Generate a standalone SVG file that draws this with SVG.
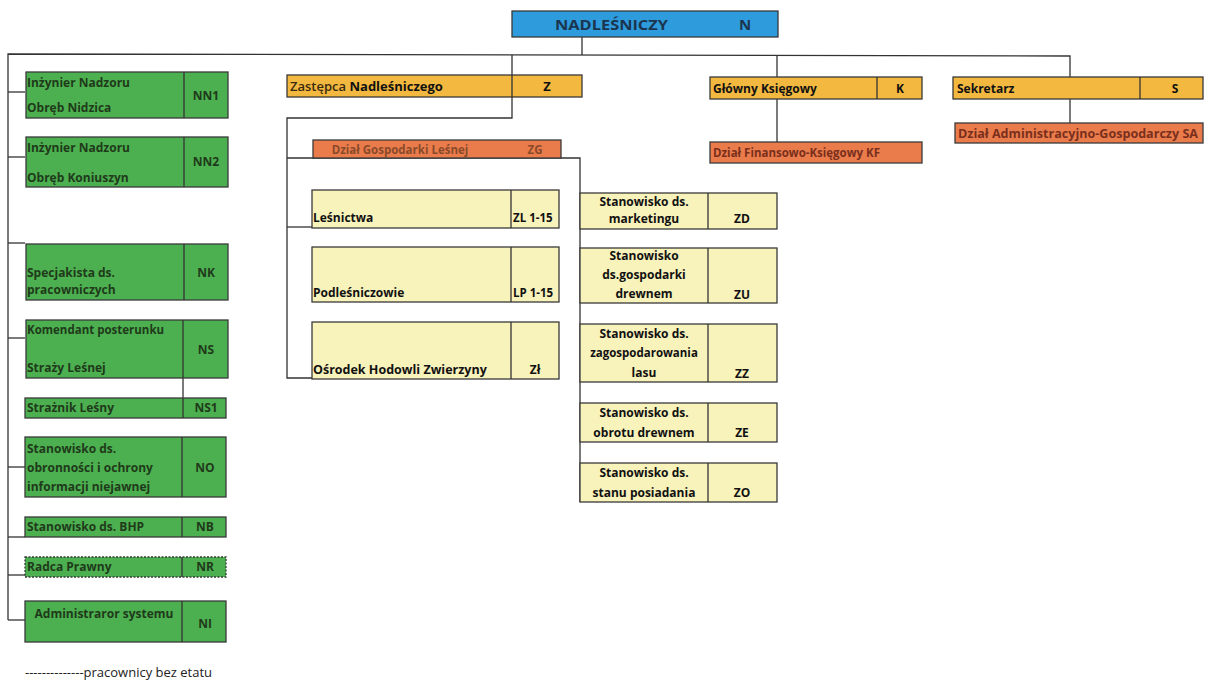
<svg xmlns="http://www.w3.org/2000/svg" width="1210" height="682" viewBox="0 0 1210 682">
<style>
.bx{stroke:#3a3a3a;stroke-width:1.3}
.blue{fill:#2e9bdc}
.gold{fill:#f3b83f}
.org{fill:#ea7c4c}
.grn{fill:#4cb050}
.pale{fill:#f8f2bb}
.ln{fill:none;stroke:#333;stroke-width:1.3}
text{font-family:"Open Sans","Liberation Sans",sans-serif;font-weight:bold;font-size:12px}
.g{fill:#1f3a1a}
.k{fill:#111}
.r{fill:#7a2f1c}
.c{text-anchor:middle}
.cd{font-size:11.5px}
</style>
<rect width="1210" height="682" fill="#fff"/>
<g id="connectors">
<polyline class="ln" points="8,620 8,54 1070,56 1070,77"/>
<line class="ln" x1="582" y1="37" x2="582" y2="55"/>
<polyline class="ln" points="512,55 512,118 287,118 287,378 312,378"/>
<line class="ln" x1="287" y1="227" x2="312" y2="227"/>
<polyline class="ln" points="287,158 580,158 580,502"/>
<line class="ln" x1="777" y1="55" x2="777" y2="77"/>
<line class="ln" x1="777" y1="99" x2="777" y2="142"/>
<line class="ln" x1="1070" y1="99" x2="1070" y2="123"/>
<line class="ln" x1="8" y1="92" x2="25" y2="92"/>
<line class="ln" x1="8" y1="157" x2="25" y2="157"/>
<line class="ln" x1="8" y1="243" x2="25" y2="243"/>
<line class="ln" x1="8" y1="338" x2="25" y2="338"/>
<line class="ln" x1="183" y1="378" x2="183" y2="398"/>
<line class="ln" x1="8" y1="467" x2="25" y2="467"/>
<line class="ln" x1="8" y1="537" x2="25" y2="537"/>
<line class="ln" x1="8" y1="575" x2="25" y2="575"/>
<line class="ln" x1="8" y1="620" x2="25" y2="620"/>
</g>
<g id="N">
<rect class="bx blue" x="512" y="11" width="266" height="26"/>
<text x="555" y="30" style="font-size:15px;fill:#1b3550" textLength="113" lengthAdjust="spacingAndGlyphs">NADLEŚNICZY</text>
<text x="745" y="30" class="c" style="font-size:15px;fill:#1b3550">N</text>
</g>
<g id="Z">
<rect class="bx gold" x="287" y="75" width="295" height="22"/>
<line class="ln" x1="512" y1="75" x2="512" y2="97"/>
<text x="290" y="91" class="k" style="font-size:13px"><tspan style="font-weight:600;fill:#3a2a10">Zastępca</tspan> Nadleśniczego</text>
<text x="547" y="91" class="c k" style="font-size:13px">Z</text>
</g>
<g id="K">
<rect class="bx gold" x="710" y="77" width="212" height="22"/>
<line class="ln" x1="877" y1="77" x2="877" y2="99"/>
<text x="713" y="93" class="k">Główny Księgowy</text>
<text x="900" y="93" class="c k">K</text>
</g>
<g id="S">
<rect class="bx gold" x="953" y="77" width="250" height="22"/>
<line class="ln" x1="1140" y1="77" x2="1140" y2="99"/>
<text x="957" y="93" class="k">Sekretarz</text>
<text x="1175" y="93" class="c k">S</text>
</g>
<g id="KF">
<rect class="bx org" x="710" y="142" width="212" height="21"/>
<text x="713" y="157" class="r" style="font-size:11.5px">Dział Finansowo-Księgowy  KF</text>
</g>
<g id="SA">
<rect class="bx org" x="955" y="123" width="248" height="20"/>
<text x="958" y="138" class="r" style="font-size:12px" textLength="240" lengthAdjust="spacingAndGlyphs">Dział Administracyjno-Gospodarczy SA</text>
</g>
<g id="ZG">
<rect class="bx org" x="313" y="140" width="248" height="18"/>
<text x="400" y="154" class="c" style="fill:#8a4a2a;font-size:11.5px">Dział Gospodarki Leśnej</text>
<text x="535" y="154" class="c" style="fill:#8a4a2a;font-size:11.5px">ZG</text>
</g>
<g id="ZL">
<rect class="bx pale" x="312" y="190" width="247" height="38"/>
<line class="ln" x1="511" y1="190" x2="511" y2="228"/>
<text x="313" y="222" class="k">Leśnictwa</text>
<text x="513" y="222" class="k cd">ZL 1-15</text>
</g>
<g id="LP">
<rect class="bx pale" x="312" y="247" width="247" height="55"/>
<line class="ln" x1="511" y1="247" x2="511" y2="302"/>
<text x="313" y="297" class="k">Podleśniczowie</text>
<text x="513" y="297" class="k cd">LP 1-15</text>
</g>
<g id="ZLo">
<rect class="bx pale" x="312" y="322" width="247" height="57"/>
<line class="ln" x1="511" y1="322" x2="511" y2="379"/>
<text x="313" y="374" class="k" style="font-size:12.5px">Ośrodek  Hodowli Zwierzyny</text>
<text x="535" y="374" class="c k">Zł</text>
</g>
<g id="ZD">
<rect class="bx pale" x="580" y="193" width="197" height="36"/>
<line class="ln" x1="708" y1="193" x2="708" y2="229"/>
<text x="644" y="206" class="c k">Stanowisko ds.</text>
<text x="644" y="223" class="c k">marketingu</text>
<text x="742" y="223" class="c k">ZD</text>
</g>
<g id="ZU">
<rect class="bx pale" x="580" y="248" width="197" height="55"/>
<line class="ln" x1="708" y1="248" x2="708" y2="303"/>
<text x="644" y="260" class="c k">Stanowisko</text>
<text x="644" y="279" class="c k">ds.gospodarki</text>
<text x="644" y="298" class="c k">drewnem</text>
<text x="742" y="299" class="c k">ZU</text>
</g>
<g id="ZZ">
<rect class="bx pale" x="580" y="324" width="197" height="58"/>
<line class="ln" x1="708" y1="324" x2="708" y2="382"/>
<text x="644" y="338" class="c k">Stanowisko ds.</text>
<text x="644" y="357" class="c k" style="font-size:11.5px">zagospodarowania</text>
<text x="644" y="377" class="c k">lasu</text>
<text x="742" y="378" class="c k">ZZ</text>
</g>
<g id="ZE">
<rect class="bx pale" x="580" y="403" width="197" height="39"/>
<line class="ln" x1="708" y1="403" x2="708" y2="442"/>
<text x="644" y="417" class="c k">Stanowisko ds.</text>
<text x="644" y="437" class="c k">obrotu drewnem</text>
<text x="742" y="437" class="c k">ZE</text>
</g>
<g id="ZO">
<rect class="bx pale" x="580" y="463" width="197" height="39"/>
<line class="ln" x1="708" y1="463" x2="708" y2="502"/>
<text x="644" y="477" class="c k">Stanowisko ds.</text>
<text x="644" y="497" class="c k">stanu posiadania</text>
<text x="742" y="497" class="c k">ZO</text>
</g>
<g id="NN1">
<rect class="bx grn" x="26" y="72" width="202" height="46"/>
<line class="ln" x1="184" y1="72" x2="184" y2="118"/>
<text x="27" y="87" class="g">Inżynier Nadzoru</text>
<text x="27" y="112" class="g">Obręb Nidzica</text>
<text x="206" y="100" class="c g">NN1</text>
</g>
<g id="NN2">
<rect class="bx grn" x="26" y="137" width="202" height="50"/>
<line class="ln" x1="184" y1="137" x2="184" y2="187"/>
<text x="27" y="152" class="g">Inżynier Nadzoru</text>
<text x="27" y="182" class="g">Obręb Koniuszyn</text>
<text x="206" y="166" class="c g">NN2</text>
</g>
<g id="NK">
<rect class="bx grn" x="26" y="244" width="202" height="56"/>
<line class="ln" x1="184" y1="244" x2="184" y2="300"/>
<text x="27" y="277" class="g">Specjakista ds.</text>
<text x="27" y="294" class="g">pracowniczych</text>
<text x="206" y="277" class="c g">NK</text>
</g>
<g id="NS">
<rect class="bx grn" x="26" y="320" width="202" height="58"/>
<line class="ln" x1="183" y1="320" x2="183" y2="378"/>
<text x="27" y="334" class="g" style="font-size:11.5px">Komendant posterunku</text>
<text x="27" y="372" class="g">Straży Leśnej</text>
<text x="206" y="354" class="c g">NS</text>
</g>
<g id="NS1">
<rect class="bx grn" x="25" y="398" width="201" height="20"/>
<line class="ln" x1="183" y1="398" x2="183" y2="418"/>
<text x="27" y="412" class="g">Strażnik Leśny</text>
<text x="206" y="412" class="c g">NS1</text>
</g>
<g id="NO">
<rect class="bx grn" x="25" y="437" width="201" height="60"/>
<line class="ln" x1="182" y1="437" x2="182" y2="497"/>
<text x="27" y="453" class="g">Stanowisko ds.</text>
<text x="27" y="472" class="g">obronności i ochrony</text>
<text x="27" y="491" class="g">informacji niejawnej</text>
<text x="205" y="472" class="c g">NO</text>
</g>
<g id="NB">
<rect class="bx grn" x="25" y="517" width="201" height="20"/>
<line class="ln" x1="182" y1="517" x2="182" y2="537"/>
<text x="27" y="531" class="g">Stanowisko ds. BHP</text>
<text x="205" y="531" class="c g">NB</text>
</g>
<g id="NR">
<rect class="grn" x="25" y="557" width="201" height="20" style="stroke:#3a3a3a;stroke-width:1.3;stroke-dasharray:2 1.5"/>
<line class="ln" x1="182" y1="557" x2="182" y2="577"/>
<text x="27" y="571" class="g">Radca Prawny</text>
<text x="205" y="571" class="c g">NR</text>
</g>
<g id="NI">
<rect class="bx grn" x="25" y="601" width="201" height="41"/>
<line class="ln" x1="182" y1="601" x2="182" y2="642"/>
<text x="104" y="618" class="c g">Administraror systemu</text>
<text x="205" y="628" class="c g">NI</text>
</g>
<g id="legend">
<text x="25" y="677" style="font-weight:normal;fill:#222;font-size:13px">--------------pracownicy bez etatu</text>
</g>
</svg>
